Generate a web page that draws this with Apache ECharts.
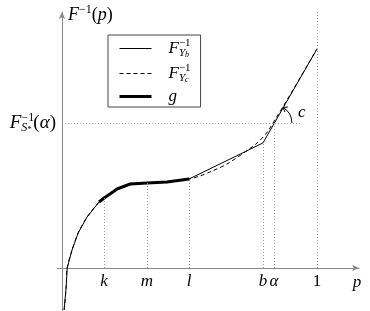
<!DOCTYPE html>
<html>
<head>
<meta charset="utf-8">
<script src="https://cdn.jsdelivr.net/npm/echarts@6/dist/echarts.min.js"></script>
<style>
html, body { margin: 0; padding: 0; background: #fff; }
#chart { width: 370px; height: 311px; }
</style>
</head>
<body>
<div id="chart"></div>
<script>
// 三条曲线共用的部分 (0 到 l)
const sharedP = [0.008, 0.016, 0.020, 0.039, 0.063, 0.098, 0.145, 0.165, 0.216, 0.267, 0.333, 0.412, 0.498];
const sharedY = [-0.84, -0.38, 0.00, 0.36, 0.70, 1.02, 1.32, 1.40, 1.58, 1.68, 1.70, 1.72, 1.78];

// F_Yb 之后的折线
const ybTailP = [0.788, 1.0];
const ybTailY = [2.50, 4.38];

// F_Yc 之后的虚线
const ycTailP = [0.541, 0.580, 0.647, 0.729, 0.765, 0.808, 1.0];
const ycTailY = [1.84, 1.92, 2.08, 2.36, 2.50, 2.74, 4.38];

// g 只画在 k 到 l
const gP = [0.145, 0.165, 0.216, 0.267, 0.333, 0.412, 0.498];
const gY = [1.32, 1.40, 1.58, 1.68, 1.70, 1.72, 1.78];

// x 轴刻度
const tickValues = [0.165, 0.333, 0.498, 0.788, 0.831, 1.0];
const tickLabels = ['k', 'm', 'l', 'b', 'α', '1'];
// 虚线竖线的高度
const guideTops = [1.40, 1.70, 1.78, 2.50, 2.90, 5.12];

const fsAlpha = 2.90;
const hGuideEnd = 0.933;

const mathFont = 'Liberation Serif';

function zip(xs, ys) {
    return xs.map((x, i) => [x, ys[i]]);
}

const chart = echarts.init(document.getElementById('chart'));

const guideStyle = { color: '#999', width: 1, type: [1, 2] };
const guideLines = tickValues.map((v, i) => [{ coord: [v, 0] }, { coord: [v, guideTops[i]] }]);
guideLines.push([{ coord: [0, fsAlpha] }, { coord: [hGuideEnd, fsAlpha] }]);

const legendRich = {
    F: { fontFamily: mathFont, fontStyle: 'italic', fontSize: 17, lineHeight: 21, color: '#000', padding: [0, 0, 0, 12] },
    sup: { fontFamily: mathFont, fontSize: 11, lineHeight: 12, verticalAlign: 'top', width: 0, color: '#000' },
    sub: { fontFamily: mathFont, fontStyle: 'italic', fontSize: 11, lineHeight: 10, verticalAlign: 'bottom', color: '#000' },
    ss: { fontFamily: mathFont, fontStyle: 'italic', fontSize: 8, lineHeight: 6, verticalAlign: 'bottom', color: '#000' },
    g: { fontFamily: mathFont, fontStyle: 'italic', fontSize: 17, lineHeight: 21, color: '#000', padding: [0, 0, 0, 12] }
};

function findTick(value) {
    const v = Number(value);
    for (let i = 0; i < tickValues.length; i++) {
        if (Math.abs(tickValues[i] - v) < 1e-6) return i;
    }
    return -1;
}

const option = {
    animation: false,
    grid: { left: 57, right: 11, top: 12, bottom: 0, outerBoundsMode: 'none' },
    legend: {
        data: [
            { name: 'F_Yb', lineStyle: { width: 1 } },
            { name: 'F_Yc', lineStyle: { width: 1 } },
            { name: 'g', lineStyle: { width: 3 } }
        ],
        orient: 'vertical',
        left: 108,
        top: 35,
        itemWidth: 32,
        itemHeight: 21,
        itemGap: 4,
        padding: [3, 10, 2, 10],
        borderColor: '#444',
        borderWidth: 1,
        borderRadius: 0,
        selectedMode: false,
        itemStyle: { opacity: 0 },
        formatter: function (name) {
            if (name === 'F_Yb') return '{F|F}{sup|−1}{sub|Y}{ss|b}';
            if (name === 'F_Yc') return '{F|F}{sup|−1}{sub|Y}{ss|c}';
            return '{g|g}';
        },
        textStyle: { rich: legendRich }
    },
    xAxis: {
        type: 'value',
        min: -0.02,
        max: 1.165,
        position: 'bottom',
        offset: -43,
        splitLine: { show: false },
        axisTick: { show: false },
        axisLine: {
            onZero: false,
            symbol: ['none', 'arrow'],
            symbolSize: [5, 7],
            lineStyle: { color: '#888', width: 1 }
        },
        axisLabel: {
            customValues: tickValues,
            margin: 5,
            formatter: function (value) {
                const i = findTick(value);
                if (i < 0) return '';
                const t = tickLabels[i];
                return t === '1' ? '{up|1}' : '{it|' + t + '}';
            },
            rich: {
                it: { fontFamily: mathFont, fontStyle: 'italic', fontSize: 17, color: '#000' },
                up: { fontFamily: mathFont, fontSize: 17, color: '#000' }
            }
        },
        name: 'p',
        nameLocation: 'end',
        nameGap: -2,
        nameTextStyle: {
            fontFamily: mathFont, fontStyle: 'italic', fontSize: 17, color: '#000',
            align: 'center', verticalAlign: 'top', padding: [6, 0, 0, 0]
        }
    },
    yAxis: {
        type: 'value',
        min: -0.86,
        max: 5.12,
        position: 'left',
        offset: -5,
        splitLine: { show: false },
        axisTick: { show: false },
        axisLine: {
            onZero: false,
            symbol: ['none', 'arrow'],
            symbolSize: [5, 7],
            lineStyle: { color: '#888', width: 1 }
        },
        axisLabel: {
            customValues: [fsAlpha],
            margin: 6,
            formatter: function () {
                return '{F|F}{sup|−1}{sub|S}{st|*}{par|(}{it|α}{par|)}';
            },
            rich: {
                F: { align: 'left', fontFamily: mathFont, fontStyle: 'italic', fontSize: 19, lineHeight: 22, color: '#000' },
                sup: { align: 'left', fontFamily: mathFont, fontSize: 12, lineHeight: 12, verticalAlign: 'top', width: 0, color: '#000' },
                sub: { align: 'left', fontFamily: mathFont, fontStyle: 'italic', fontSize: 12, lineHeight: 10, verticalAlign: 'bottom', color: '#000' },
                st: { align: 'left', fontFamily: mathFont, fontSize: 9, lineHeight: 14, verticalAlign: 'bottom', width: 6, color: '#000' },
                par: { align: 'left', fontFamily: mathFont, fontSize: 19, lineHeight: 22, color: '#000' },
                it: { align: 'left', fontFamily: mathFont, fontStyle: 'italic', fontSize: 19, lineHeight: 22, color: '#000' }
            }
        },
        name: '{F|F}{sup|−1}{par|(}{it|p}{par|)}',
        nameLocation: 'end',
        nameGap: -3,
        nameTextStyle: {
            align: 'left',
            verticalAlign: 'middle',
            padding: [0, 0, 0, 6],
            rich: {
                F: { fontFamily: mathFont, fontStyle: 'italic', fontSize: 18, lineHeight: 22, color: '#000' },
                sup: { fontFamily: mathFont, fontSize: 12, lineHeight: 12, verticalAlign: 'top', color: '#000' },
                par: { fontFamily: mathFont, fontSize: 18, lineHeight: 22, color: '#000' },
                it: { fontFamily: mathFont, fontStyle: 'italic', fontSize: 18, lineHeight: 22, color: '#000' }
            }
        }
    },
    series: [
        {
            name: 'F_Yb',
            type: 'line',
            data: zip(sharedP, sharedY).concat(zip(ybTailP, ybTailY)),
            symbol: 'none',
            lineStyle: { color: '#000', width: 1 },
            itemStyle: { color: '#000' },
            z: 2,
            markLine: {
                silent: true,
                symbol: 'none',
                label: { show: false },
                lineStyle: guideStyle,
                data: guideLines
            }
        },
        {
            name: 'F_Yc',
            type: 'line',
            data: zip(sharedP, sharedY).concat(zip(ycTailP, ycTailY)),
            symbol: 'none',
            smooth: 0.3,
            lineStyle: { color: '#000', width: 1, type: [4, 3] },
            itemStyle: { color: '#000' },
            z: 3
        },
        {
            name: 'g',
            type: 'line',
            data: zip(gP, gY),
            symbol: 'none',
            lineStyle: { color: '#000', width: 3 },
            itemStyle: { color: '#000' },
            z: 4
        }
    ]
};

chart.setOption(option);

// 角度 c 的弧线和箭头
const center = chart.convertToPixel({ gridIndex: 0 }, [tickValues[4], fsAlpha]);
const r = 18;
const ang = -Math.PI / 3;
const tip = [center[0] + r * Math.cos(ang), center[1] + r * Math.sin(ang)];
const w1 = [tip[0] + 5 * Math.cos(-5 * Math.PI / 180), tip[1] + 5 * Math.sin(-5 * Math.PI / 180)];
const w2 = [tip[0] + 5 * Math.cos(65 * Math.PI / 180), tip[1] + 5 * Math.sin(65 * Math.PI / 180)];

chart.setOption({
    graphic: [
        {
            type: 'arc',
            shape: { cx: center[0], cy: center[1], r: r, startAngle: ang, endAngle: 0, clockwise: true },
            style: { stroke: '#000', lineWidth: 1, fill: null },
            silent: true
        },
        {
            type: 'polyline',
            shape: { points: [w1, tip, w2] },
            style: { stroke: '#000', lineWidth: 1, fill: null },
            silent: true
        },
        {
            type: 'text',
            x: center[0] + 28,
            y: center[1] - 10,
            style: {
                text: 'c', fontFamily: mathFont, fontStyle: 'italic', fontSize: 17, fill: '#000',
                align: 'center', verticalAlign: 'middle'
            },
            silent: true
        }
    ]
});

window.addEventListener('resize', function () {
    chart.resize();
});
</script>
</body>
</html>
